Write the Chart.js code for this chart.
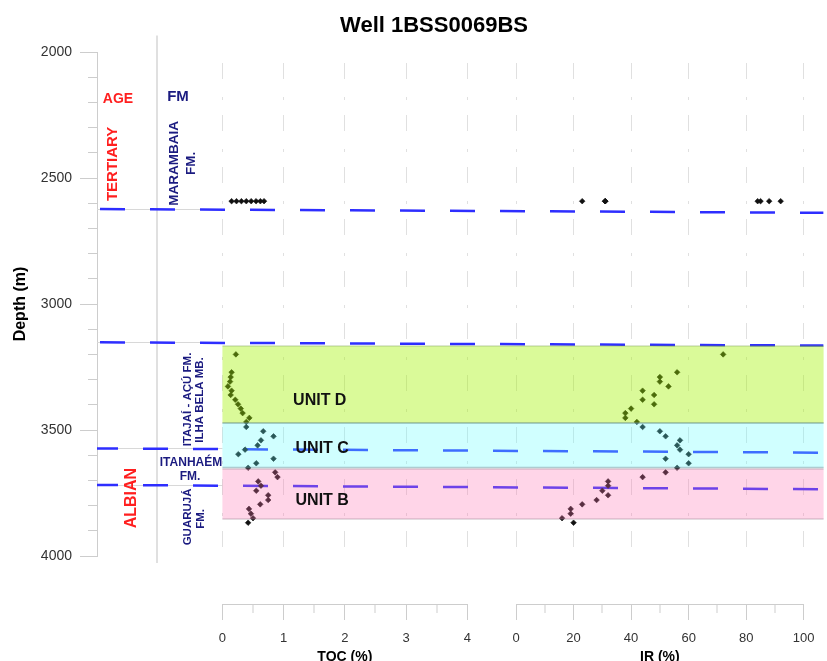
<!DOCTYPE html>
<html>
<head>
<meta charset="utf-8">
<title>Well 1BSS0069BS</title>
<script src="https://cdn.jsdelivr.net/npm/chart.js@4.4.1/dist/chart.umd.min.js"></script>
<style>
html,body{margin:0;padding:0;background:#ffffff;overflow:hidden;}
canvas{display:block;}
</style>
</head>
<body>
<canvas id="chart" width="827" height="661"></canvas>
<script>
// ---------------- data ----------------
const chartTitle = 'Well 1BSS0069BS';
const depthTitle = 'Depth (m)';
const tocTitle = 'TOC (%)';
const irTitle = 'IR (%)';

const depthRange = [2000, 4000];
const depthMajorStep = 500;
const depthMinorStep = 100;
const tocRange = [0, 4];
const tocMajorStep = 1;
const tocMinorStep = 0.5;
const irRange = [0, 100];
const irMajorStep = 20;
const irMinorStep = 10;

// samples (depth m, TOC %, IR %)
const sampleDepth = [2592, 2592, 2592, 2592, 2592, 2592, 2592, 2592,
  3200, 3271, 3290, 3308, 3327, 3344, 3361, 3380, 3398, 3415, 3433, 3452, 3468, 3488,
  3505, 3525, 3541, 3561, 3578, 3596, 3614, 3632, 3650,
  3668, 3687, 3704, 3721, 3741, 3759, 3778, 3795, 3813, 3832, 3850, 3868];
const sampleToc = [0.15, 0.23, 0.31, 0.39, 0.47, 0.55, 0.62, 0.68,
  0.22, 0.15, 0.135, 0.125, 0.09, 0.15, 0.135, 0.21, 0.255, 0.30, 0.33, 0.44, 0.39, 0.39,
  0.667, 0.835, 0.63, 0.575, 0.37, 0.26, 0.835, 0.553, 0.42,
  0.862, 0.90, 0.585, 0.63, 0.553, 0.748, 0.748, 0.618, 0.434, 0.466, 0.50, 0.42];
const sampleIr = [23, 31, 31, 31, 84, 85, 88, 92,
  72, 56, 50, 50, 53, 44, 48, 44, 48, 40, 38, 38, 42, 44,
  50, 52, 57, 56, 57, 60, 52, 60, 56,
  52, 44, 32, 32, 30, 32, 28, 23, 19, 19, 16, 20];

// formation boundaries (depth at left end / right end of the correlation line)
const boundaryDepthLeft = [2623, 3152, 3573, 3718];
const boundaryDepthRight = [2638, 3165, 3590, 3735];

// units
const unitNames = ['UNIT D', 'UNIT C', 'UNIT B'];
const unitTop = [3167, 3472, 3655];
const unitBase = [3472, 3649, 3853];

// ---------------- styles / layout ----------------
const FONT = '"Liberation Sans", Arial, Helvetica, sans-serif';
Chart.defaults.font.family = FONT;
const RED = '#ff1f1f';
const NAVY = '#1b1b80';
const BLUE = '#2e2eff';
const GRID_COLOR = '#e0e0e0';
const AXIS_COLOR = '#cdcdcd';
const TICK_TEXT = '#333333';
const unitFill = ['rgba(163,243,0,0.40)', 'rgba(98,255,255,0.30)', 'rgba(255,115,178,0.30)'];
const unitEdge = ['rgba(110,150,60,0.30)', 'rgba(110,140,150,0.45)', 'rgba(150,120,140,0.35)'];
const unitLabelPos = [{toc: 1.59, depth: 3385}, {toc: 1.63, depth: 3575}, {toc: 1.63, depth: 3782}];
const boundaryDashOffset = [-3, -3, 4, 4];
const AXIS_DROP = 48;     // x axes sit below the depth track
const AXIS_BOX = 63;

const textLabels = [
  {lines: ['AGE'], x: [118], depth: [2186], size: 14, color: RED},
  {lines: ['FM'], x: [178], depth: [2179], size: 15, color: NAVY},
  {lines: ['TERTIARY'], x: [113], depth: [2444], size: 15, color: RED, rotate: true},
  {lines: ['MARAMBAIA', 'FM.'], x: [174, 191], depth: [2442, 2442], size: 13.5, color: NAVY, rotate: true},
  {lines: ['ITAJAÍ - AÇÚ FM.', 'ILHA BELA MB.'], x: [188, 200], depth: [3379, 3381], size: 11.5, color: NAVY, rotate: true},
  {lines: ['ITANHAÉM', 'FM.'], x: [191, 190], depth: [3631, 3687], size: 12, color: NAVY},
  {lines: ['GUARUJÁ', 'FM.'], x: [188, 201], depth: [3845, 3853], size: 11.5, color: NAVY, rotate: true},
  {lines: ['ALBIAN'], x: [132], depth: [3770], size: 16, color: RED, rotate: true}
];

function isMultiple(v, step) {
  return Math.abs(v / step - Math.round(v / step)) < 1e-6;
}

// ---------------- plugins ----------------
const dropAxes = {
  id: 'dropAxes',
  afterLayout(chart) {
    ['xLeft', 'xToc', 'xGap', 'xIr', 'xRight'].forEach(id => {
      const s = chart.scales[id];
      if (s) { s.top += AXIS_DROP; s.bottom += AXIS_DROP; }
    });
  }
};

const underlay = {
  id: 'underlay',
  beforeDatasetsDraw(chart) {
    const {ctx, chartArea} = chart;
    const y = chart.scales.y;
    const xToc = chart.scales.xToc;
    ctx.save();
    // column separator between AGE and FM
    ctx.strokeStyle = '#d6d6d6';
    ctx.lineWidth = 1.5;
    ctx.beginPath();
    ctx.moveTo(157, y.getPixelForValue(1935));
    ctx.lineTo(157, y.getPixelForValue(4028));
    ctx.stroke();
    // thin grey ties of the boundaries across the stratigraphic columns
    ctx.strokeStyle = '#d8d8d8';
    ctx.lineWidth = 1;
    boundaryDepthLeft.forEach(d => {
      const py = Math.round(y.getPixelForValue(d)) + 0.5;
      ctx.beginPath();
      ctx.moveTo(chartArea.left, py);
      ctx.lineTo(xToc.getPixelForValue(0), py);
      ctx.stroke();
    });
    ctx.restore();
  }
};

const overlay = {
  id: 'overlay',
  afterDatasetsDraw(chart) {
    const {ctx, chartArea} = chart;
    const y = chart.scales.y;
    const xToc = chart.scales.xToc;
    ctx.save();
    // unit bands (translucent, drawn over the samples)
    const x0 = xToc.getPixelForValue(0);
    const x1 = chartArea.right;
    unitNames.forEach((n, i) => {
      const y0 = y.getPixelForValue(unitTop[i]);
      const y1 = y.getPixelForValue(unitBase[i]);
      ctx.fillStyle = unitFill[i];
      ctx.fillRect(x0, y0, x1 - x0, y1 - y0);
      ctx.strokeStyle = unitEdge[i];
      ctx.lineWidth = 1.5;
      ctx.beginPath();
      ctx.moveTo(x0, y0); ctx.lineTo(x1, y0);
      ctx.moveTo(x0, y1); ctx.lineTo(x1, y1);
      ctx.stroke();
    });
    // unit labels
    ctx.fillStyle = '#111';
    ctx.font = 'bold 16px ' + FONT;
    ctx.textAlign = 'center';
    ctx.textBaseline = 'middle';
    unitNames.forEach((n, i) => {
      ctx.fillText(n, xToc.getPixelForValue(unitLabelPos[i].toc), y.getPixelForValue(unitLabelPos[i].depth));
    });
    // stratigraphic column labels
    textLabels.forEach(l => {
      ctx.fillStyle = l.color;
      ctx.font = 'bold ' + l.size + 'px ' + FONT;
      l.lines.forEach((t, k) => {
        const px = l.x[k];
        const py = y.getPixelForValue(l.depth[k]);
        ctx.save();
        ctx.translate(px, py);
        if (l.rotate) ctx.rotate(-Math.PI / 2);
        ctx.fillText(t, 0, 0);
        ctx.restore();
      });
    });
    // chart title
    ctx.fillStyle = '#000';
    ctx.font = 'bold 22px ' + FONT;
    ctx.fillText(chartTitle, 434, 25.5);
    ctx.restore();
  }
};

// ---------------- axes ----------------
function fitPanel(s) {
  s.height = AXIS_BOX;
  s.paddingLeft = 0; s.paddingRight = 0; s.paddingTop = 0; s.paddingBottom = 0;
}
function spacer(weight, stackWeight) {
  return {
    type: 'linear', position: 'bottom', stack: 'tracks', stackWeight, weight,
    min: 0, max: 1,
    grid: {display: false}, border: {display: false}, ticks: {display: false},
    afterFit: fitPanel
  };
}
function panelAxis(weight, stackWeight, range, major, minor, title) {
  const isMajor = c => c.tick && isMultiple(c.tick.value, major);
  return {
    type: 'linear', position: 'bottom', stack: 'tracks', stackWeight, weight,
    min: range[0], max: range[1],
    grid: {
      display: true, drawOnChartArea: true, drawTicks: true, tickLength: 16,
      color: c => isMajor(c) ? GRID_COLOR : 'rgba(0,0,0,0)',
      lineWidth: c => isMajor(c) ? 1 : 0,
      tickColor: AXIS_COLOR, tickWidth: 1,
      tickBorderDash: c => isMajor(c) ? [] : [8, 100],
      tickBorderDashOffset: 0
    },
    border: {display: true, color: AXIS_COLOR, width: 1, dash: [16, 18, 3, 15], dashOffset: 41},
    ticks: {
      stepSize: minor, autoSkip: false, maxRotation: 0, padding: 11,
      color: TICK_TEXT, font: {size: 13},
      callback: v => isMultiple(v, major) ? String(v) : ''
    },
    title: {display: true, text: title, color: '#000', font: {size: 14, weight: 'bold'}, padding: {top: 0, bottom: 1}},
    afterFit: fitPanel
  };
}

const scales = {
  y: {
    type: 'linear', position: 'left', reverse: true,
    min: depthRange[0], max: depthRange[1],
    grid: {
      display: true, drawOnChartArea: false, drawTicks: true, tickLength: 17,
      tickColor: AXIS_COLOR, tickWidth: 1,
      tickBorderDash: c => (c.tick && isMultiple(c.tick.value, depthMajorStep)) ? [] : [9, 100],
      tickBorderDashOffset: c => (c.tick && isMultiple(c.tick.value, depthMajorStep)) ? 0 : -8
    },
    border: {display: true, color: AXIS_COLOR, width: 1},
    ticks: {
      stepSize: depthMinorStep, autoSkip: false, padding: 8,
      color: TICK_TEXT, font: {size: 14},
      callback: v => isMultiple(v, depthMajorStep) ? String(v) : ''
    },
    title: {display: true, text: depthTitle, color: '#000', font: {size: 16, weight: 'bold'}, padding: {top: 11, bottom: 0}},
    afterFit: s => { s.width = 97; s.paddingTop = 0; s.paddingBottom = 0; }
  },
  xAll: {type: 'linear', position: 'bottom', weight: 0, min: 0, max: 1, display: false},
  xLeft: spacer(1, 126),
  xToc: panelAxis(2, 246, tocRange, tocMajorStep, tocMinorStep, tocTitle),
  xGap: spacer(3, 49),
  xIr: panelAxis(4, 289, irRange, irMajorStep, irMinorStep, irTitle),
  xRight: spacer(5, 20)
};

// ---------------- datasets ----------------
const pointStyle = {
  showLine: false, pointStyle: 'rectRot', pointRadius: 2.8, pointHoverRadius: 2.8,
  pointBackgroundColor: '#111111', pointBorderColor: '#111111', pointBorderWidth: 0.6, order: 1
};
const datasets = [
  Object.assign({label: 'TOC', xAxisID: 'xToc', yAxisID: 'y',
    data: sampleDepth.map((d, i) => ({x: sampleToc[i], y: d}))}, pointStyle),
  Object.assign({label: 'IR', xAxisID: 'xIr', yAxisID: 'y',
    data: sampleDepth.map((d, i) => ({x: sampleIr[i], y: d}))}, pointStyle)
];
boundaryDepthLeft.forEach((d, i) => {
  datasets.push({
    label: 'boundary ' + (i + 1), xAxisID: 'xAll', yAxisID: 'y',
    data: [{x: 0, y: d}, {x: 1, y: boundaryDepthRight[i]}],
    showLine: true, borderColor: BLUE, borderWidth: 2.5,
    borderDash: [25, 25], borderDashOffset: boundaryDashOffset[i],
    pointRadius: 0, pointHoverRadius: 0, fill: false, tension: 0, order: 2
  });
});

new Chart(document.getElementById('chart'), {
  type: 'scatter',
  data: {datasets},
  options: {
    responsive: false, animation: false, devicePixelRatio: 1,
    layout: {padding: {top: 52, right: 0, bottom: 661 - 556 - AXIS_BOX, left: 0}},
    plugins: {legend: {display: false}, tooltip: {enabled: false}, title: {display: false}},
    scales
  },
  plugins: [dropAxes, underlay, overlay]
});
</script>
</body>
</html>
